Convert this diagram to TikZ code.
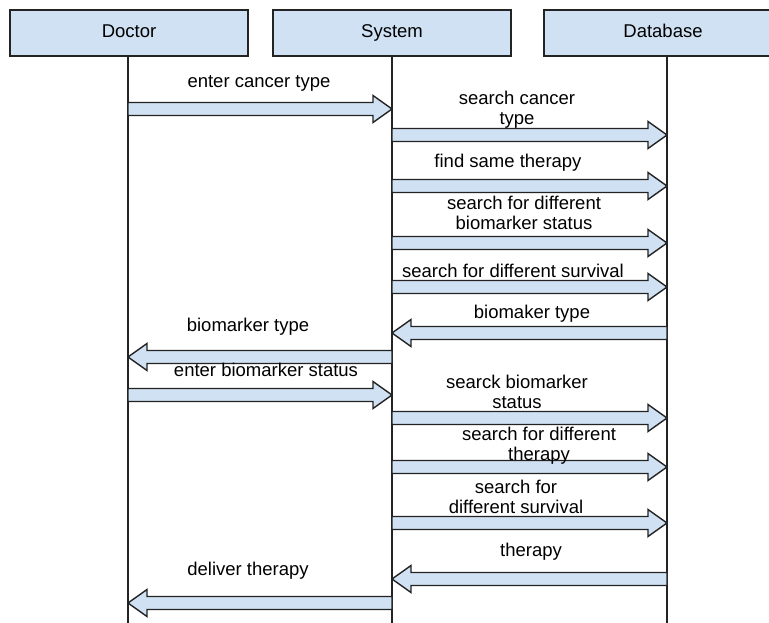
\documentclass[tikz,border=0pt]{standalone}
\usepackage{fontspec}
\setmainfont{Liberation Sans}
\usepackage{xcolor}
\usepackage{tikz}
\usetikzlibrary{calc}

\definecolor{boxblue}{RGB}{207,225,243}
\definecolor{edgegray}{RGB}{35,35,35}

% block arrow from one lifeline to another at the height of a level coordinate
\newcommand{\sendmsg}[3]{%
  \draw[msg] let \p1=(#1 |- #3), \p2=(#2 |- #3), \n1={sign(\x2-\x1)} in
    (\x1,\y1+6.5pt) -- (\x2-\n1*19pt,\y1+6.5pt) -- (\x2-\n1*19pt,\y1+13.5pt) -- (\x2,\y1)
    -- (\x2-\n1*19pt,\y1-13.5pt) -- (\x2-\n1*19pt,\y1-6.5pt) -- (\x1,\y1-6.5pt) -- cycle;}

\begin{document}
\begin{tikzpicture}[x=1pt,y=-1pt,
    actor/.style={draw=edgegray,line width=1.4pt,fill=boxblue,minimum width=238pt,
      minimum height=46pt,inner sep=0pt,text height=13pt,text depth=4pt,
      font=\fontsize{18.5}{20}\selectfont},
    lifeline/.style={draw=edgegray,line width=1.4pt},
    msg/.style={draw=edgegray,line width=1.4pt,fill=boxblue,line join=miter},
    lbl/.style={align=center,inner sep=0pt,font=\fontsize{18.5}{20}\selectfont}]

\useasboundingbox (0,0) rectangle (769,623);
\clip (0,0) rectangle (769,623);

\node[actor] (doctor)   at (129,33) {Doctor};
\node[actor] (system)   at (392,33) {System};
\node[actor] (database) at (663,33) {Database};

\coordinate (docline) at (128,56);
\coordinate (sysline) at (392,56);
\coordinate (dbline)  at (667,56);

\draw[lifeline] (docline) -- (docline |- 0,623);
\draw[lifeline] (sysline) -- (sysline |- 0,623);
\draw[lifeline] (dbline) -- (dbline |- 0,623);

% message levels
\coordinate (m1)  at (0,109);
\coordinate (m2)  at (0,135);
\coordinate (m3)  at (0,186);
\coordinate (m4)  at (0,243);
\coordinate (m5)  at (0,287);
\coordinate (m6)  at (0,333);
\coordinate (m7)  at (0,357);
\coordinate (m8)  at (0,395);
\coordinate (m9)  at (0,418);
\coordinate (m10) at (0,467);
\coordinate (m11) at (0,523);
\coordinate (m12) at (0,579);
\coordinate (m13) at (0,603);

\sendmsg{docline}{sysline}{m1}
\sendmsg{sysline}{dbline}{m2}
\sendmsg{sysline}{dbline}{m3}
\sendmsg{sysline}{dbline}{m4}
\sendmsg{sysline}{dbline}{m5}
\sendmsg{dbline}{sysline}{m6}
\sendmsg{sysline}{docline}{m7}
\sendmsg{docline}{sysline}{m8}
\sendmsg{sysline}{dbline}{m9}
\sendmsg{sysline}{dbline}{m10}
\sendmsg{sysline}{dbline}{m11}
\sendmsg{dbline}{sysline}{m12}
\sendmsg{sysline}{docline}{m13}

\node[lbl] (l1)  at (259,83)    {enter cancer type};
\node[lbl] (l2)  at (517,110)   {search cancer\\type};
\node[lbl] (l3)  at (508,163)   {find same therapy};
\node[lbl] (l4)  at (524,213)   {search for different\\biomarker status};
\node[lbl] (l5)  at (513,271)   {search for different survival};
\node[lbl] (l6)  at (532,314)   {biomaker type};
\node[lbl] (l7)  at (248,327)   {biomarker type};
\node[lbl] (l8)  at (266,370)   {enter biomarker status};
\node[lbl] (l9)  at (517,391.5) {searck biomarker\\status};
\node[lbl] (l10) at (539,445.5) {search for different\\therapy};
\node[lbl] (l11) at (516,497)   {search for\\different survival};
\node[lbl] (l12) at (531,552)   {therapy};
\node[lbl] (l13) at (248,571)   {deliver therapy};

\end{tikzpicture}
\end{document}
